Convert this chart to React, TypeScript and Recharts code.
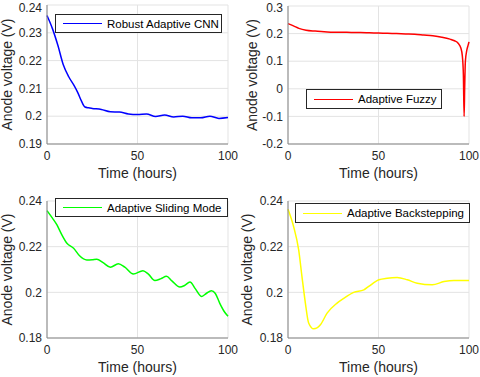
import React from 'react';
import { LineChart, Line, XAxis, YAxis, CartesianGrid } from 'recharts';

// ---- data ----
const cnnTime = [0, 3, 6, 9, 12, 15, 17, 19, 21, 23, 25, 30, 35, 40, 45, 50, 55, 60, 65, 70, 75, 80, 85, 90, 95, 100];
const cnnVolt = [0.2362, 0.2315, 0.2255, 0.2185, 0.2142, 0.211, 0.2085, 0.2055, 0.2033, 0.203, 0.2028, 0.2024, 0.2016, 0.2015, 0.2008, 0.2006, 0.2008, 0.1999, 0.2004, 0.1997, 0.2, 0.1994, 0.1994, 0.2, 0.1992, 0.1995];

const fuzzyTime = [0, 3, 6, 10, 15, 20, 25, 30, 35, 40, 45, 50, 55, 60, 65, 70, 75, 80, 85, 89.5, 92, 94, 95.5, 96.3, 96.9, 97.3, 97.6, 98, 98.8, 99.6, 100];
const fuzzyVolt = [0.236, 0.228, 0.219, 0.212, 0.209, 0.207, 0.205, 0.205, 0.204, 0.204, 0.203, 0.202, 0.201, 0.2, 0.199, 0.198, 0.195, 0.192, 0.187, 0.18, 0.174, 0.165, 0.148, 0.12, 0.05, -0.1, 0.0, 0.1, 0.14, 0.16, 0.17];

const smcTime = [0, 3, 5.5, 8, 11, 14.7, 18, 22, 25, 27.5, 31, 35, 39.4, 43, 47.7, 53, 56, 59.6, 63, 66, 69, 73.4, 76, 79, 82, 85.3, 88, 90.8, 93, 95.4, 98, 100];
const smcVolt = [0.2358, 0.2325, 0.2295, 0.2255, 0.2215, 0.2193, 0.216, 0.2142, 0.2143, 0.2145, 0.213, 0.211, 0.2125, 0.211, 0.208, 0.2095, 0.208, 0.2052, 0.206, 0.207, 0.205, 0.2023, 0.203, 0.2045, 0.2015, 0.1982, 0.1995, 0.2007, 0.1995, 0.1953, 0.1915, 0.1895];

const bsTime = [0, 3.1, 5.9, 7.7, 9.6, 11.4, 14.2, 17.9, 21.6, 27.1, 31, 36.3, 41.9, 44.6, 50.2, 54.8, 60.3, 65.9, 71.4, 79.7, 86.2, 91.7, 100];
const bsVolt = [0.2364, 0.2288, 0.2186, 0.207, 0.1953, 0.1866, 0.184, 0.1858, 0.1909, 0.1953, 0.1975, 0.2, 0.2011, 0.2026, 0.2055, 0.2062, 0.2065, 0.2055, 0.204, 0.2033, 0.2047, 0.2052, 0.2052];

const timeTicks = [0, 50, 100];
const ticksA = [0.19, 0.2, 0.21, 0.22, 0.23, 0.24];
const ticksB = [-0.2, -0.1, 0, 0.1, 0.2, 0.3];
const ticksC = [0.18, 0.2, 0.22, 0.24];

const zip = (t: number[], v: number[]) => t.map((x, i) => ({ t: x, v: v[i] }));

const FONT = 'Liberation Sans, Arial, Helvetica, sans-serif';
const TXT = '#262626';
const AXIS = '#858585';
const GRID = '#e3e3e3';

const fmt = (v: number) => String(Number(v.toFixed(2)));

interface PanelProps {
  left: number;
  top: number;
  width: number;
  height: number;
  data: { t: number; v: number }[];
  color: string;
  domain: [number, number];
  ticks: number[];
  yAxisWidth: number;
  marginTop: number;
  marginRight: number;
  xAxisHeight: number;
  ylabelGap: number;
  name: string;
  legend: { x: number; y: number; w: number; h: number };
}

const Panel = (p: PanelProps) => {
  const plotTop = p.marginTop;
  const plotBottom = p.height - p.xAxisHeight;
  const plotLeft = p.yAxisWidth;
  const plotRight = p.width - p.marginRight;
  return (
    <div style={{ position: 'absolute', left: p.left, top: p.top, width: p.width, height: p.height }}>
      <LineChart
        width={p.width}
        height={p.height}
        data={p.data}
        margin={{ top: p.marginTop, right: p.marginRight, left: 0, bottom: 0 }}
      >
        <CartesianGrid stroke={GRID} />
        <XAxis
          dataKey="t"
          type="number"
          domain={[0, 100]}
          ticks={timeTicks}
          height={p.xAxisHeight}
          tickLine={false}
          tickSize={0}
          tickMargin={7}
          stroke={AXIS}
          tick={{ fontSize: 12, fill: TXT, fontFamily: FONT }}
          label={() => (
            <text
              x={(plotLeft + plotRight) / 2}
              y={plotBottom + 34}
              textAnchor="middle"
              fontSize={14}
              fontFamily={FONT}
              fill={TXT}
            >
              Time (hours)
            </text>
          )}
        />
        <XAxis xAxisId="top" orientation="top" dataKey="t" type="number" domain={[0, 100]} height={0} tick={false} tickLine={false} stroke={AXIS} />
        <YAxis
          type="number"
          domain={p.domain}
          ticks={p.ticks}
          width={p.yAxisWidth}
          tickLine={false}
          tickSize={0}
          tickMargin={5}
          stroke={AXIS}
          tickFormatter={fmt}
          allowDataOverflow
          tick={{ fontSize: 12, fill: TXT, fontFamily: FONT }}
          label={() => {
            const cx = plotLeft - p.ylabelGap;
            const cy = (plotTop + plotBottom) / 2;
            return (
              <text
                x={cx}
                y={cy}
                transform={`rotate(-90 ${cx} ${cy})`}
                textAnchor="middle"
                dominantBaseline="central"
                fontSize={14}
                fontFamily={FONT}
                fill={TXT}
              >
                Anode voltage (V)
              </text>
            );
          }}
        />
        <YAxis yAxisId="right" orientation="right" domain={p.domain} width={0} tick={false} tickLine={false} stroke={AXIS} />
        <Line
          type="monotone"
          dataKey="v"
          stroke={p.color}
          strokeWidth={1.5}
          dot={false}
          isAnimationActive={false}
        />
      </LineChart>
      <div
        style={{
          position: 'absolute',
          left: p.legend.x,
          top: p.legend.y,
          width: p.legend.w,
          height: p.legend.h,
          boxSizing: 'border-box',
          border: `1px solid ${TXT}`,
          background: '#fff',
          display: 'flex',
          alignItems: 'center',
          fontFamily: FONT,
          fontSize: 11.5,
          color: '#000',
          whiteSpace: 'nowrap',
        }}
      >
        <span style={{ display: 'inline-block', width: 39, height: 0, borderTop: `1.5px solid ${p.color}`, marginLeft: 7, marginRight: 5 }} />
        <span>{p.name}</span>
      </div>
    </div>
  );
};

export default function App() {
  return (
    <div style={{ position: 'fixed', left: 0, top: 0, width: 480, height: 377, background: '#fff' }}>
      <Panel
        left={0}
        top={0}
        width={240}
        height={190}
        data={zip(cnnTime, cnnVolt)}
        color="#0000ff"
        domain={[0.19, 0.24]}
        ticks={ticksA}
        yAxisWidth={47}
        marginTop={5}
        marginRight={12}
        xAxisHeight={46}
        ylabelGap={40}
        name="Robust Adaptive CNN"
        legend={{ x: 55, y: 14, w: 167, h: 19 }}
      />
      <Panel
        left={240}
        top={0}
        width={240}
        height={190}
        data={zip(fuzzyTime, fuzzyVolt)}
        color="#ff0000"
        domain={[-0.2, 0.3]}
        ticks={ticksB}
        yAxisWidth={48}
        marginTop={6}
        marginRight={11}
        xAxisHeight={46}
        ylabelGap={36}
        name="Adaptive Fuzzy"
        legend={{ x: 66, y: 89, w: 136, h: 20 }}
      />
      <Panel
        left={0}
        top={190}
        width={240}
        height={187}
        data={zip(smcTime, smcVolt)}
        color="#00ff00"
        domain={[0.18, 0.24]}
        ticks={ticksC}
        yAxisWidth={47}
        marginTop={11}
        marginRight={12}
        xAxisHeight={39}
        ylabelGap={40}
        name="Adaptive Sliding Mode"
        legend={{ x: 55, y: 8, w: 173, h: 19 }}
      />
      <Panel
        left={240}
        top={190}
        width={240}
        height={187}
        data={zip(bsTime, bsVolt)}
        color="#ffff00"
        domain={[0.18, 0.24]}
        ticks={ticksC}
        yAxisWidth={48}
        marginTop={11}
        marginRight={11}
        xAxisHeight={39}
        ylabelGap={41}
        name="Adaptive Backstepping"
        legend={{ x: 55, y: 13, w: 175, h: 20 }}
      />
    </div>
  );
}
